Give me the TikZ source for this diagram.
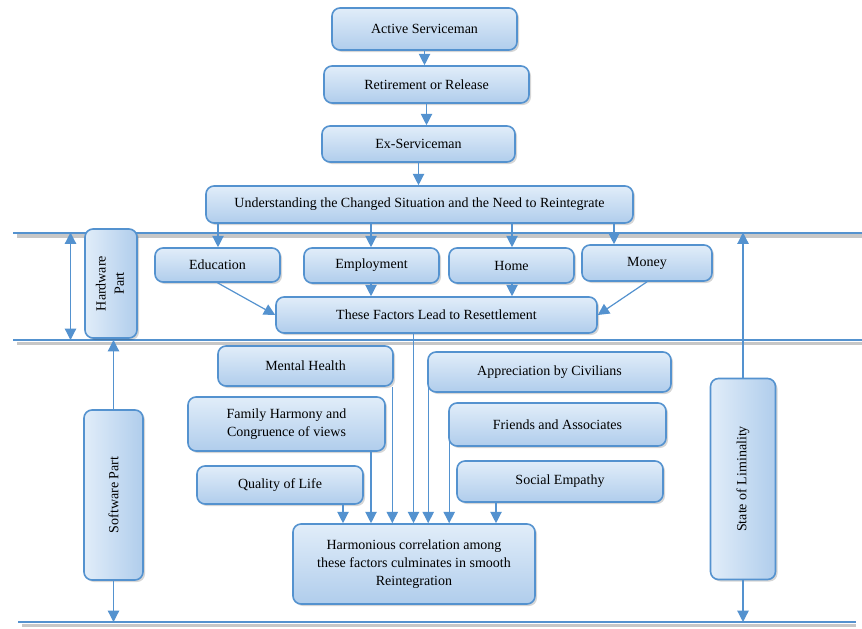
\documentclass[tikz,border=0pt]{standalone}
\usepackage{fontspec}
\usepackage{graphicx}
\setmainfont{Liberation Serif}
\usetikzlibrary{arrows.meta,shadows,calc}
\definecolor{edge}{RGB}{84,146,207}
\definecolor{boxtop}{RGB}{225,237,249}
\definecolor{boxbot}{RGB}{176,205,236}
\definecolor{rule}{RGB}{84,146,207}
\begin{document}
\begin{tikzpicture}[x=0.75pt,y=-0.75pt,
  basebox/.style={draw=edge, line width=1.2pt, rounded corners=6pt, inner sep=0pt,
    align=center, font=\fontsize{10.5}{13.7}\selectfont,
    drop shadow={shadow xshift=1.5pt, shadow yshift=-1.5pt, opacity=0.16, fill=black}},
  box/.style={basebox, top color=boxtop, bottom color=boxbot},
  vbox/.style={basebox, left color=boxtop, right color=boxbot},
  arr/.style={draw=edge, line width=0.9pt, -{Triangle[length=8.5pt,width=8.5pt]}},
  darr/.style={draw=edge, line width=0.9pt, {Triangle[length=8.5pt,width=8.5pt]}-{Triangle[length=8.5pt,width=8.5pt]}},
  hrule/.style={draw=rule, line width=1.5pt},
  hshade/.style={draw=black!22, line width=2.6pt}]

\fill[white] (0,0) rectangle (862,628);
\useasboundingbox (0,0) rectangle (862,628);

% three horizontal boundaries, each with a soft grey shade underneath
\coordinate (L1w) at (13,232.5);  \coordinate (L1e) at (862,232.5);
\coordinate (L2w) at (13,340);    \coordinate (L2e) at (862,340);
\coordinate (L3w) at (18,622);    \coordinate (L3e) at (856,622);
\foreach \a/\b in {L1w/L1e, L2w/L2e, L3w/L3e}{
  \draw[hshade] ($(\a)+(4,3.5)$) -- ($(\b)+(0,3.5)$);
  \draw[hrule] (\a) -- (\b);
}

% main chain
\node[box, minimum width=138.75pt, minimum height=31.5pt] (act) at (424.5,29) {Active Serviceman};
\node[box, minimum width=153.75pt, minimum height=27.75pt] (ret) at (426.5,84.5) {Retirement or Release};
\node[box, minimum width=144.75pt, minimum height=27pt] (ex) at (418.5,144) {Ex-Serviceman};
\node[box, minimum width=320.25pt, minimum height=27.75pt] (und) at (419.5,204.5) {Understanding the Changed Situation and the Need to Reintegrate};

% hardware factors
\node[box, minimum width=93.75pt, minimum height=25.5pt] (edu) at (217.5,265) {Education};
\node[box, minimum width=101.25pt, minimum height=26.25pt] (emp) at (371.5,265.5) {Employment};
\node[box, minimum width=93.75pt, minimum height=26.25pt] (home) at (511.5,265.5) {Home};
\node[box, minimum width=97.5pt, minimum height=27pt] (money) at (647,263) {Money};
\node[box, minimum width=240.75pt, minimum height=27pt] (res) at (436.5,315) {These Factors Lead to Resettlement};

% software factors
\node[box, minimum width=131.25pt, minimum height=30pt] (mh) at (305.5,366) {Mental Health};
\node[box, minimum width=147.75pt, minimum height=40.5pt] (fam) at (286.5,424) {Family Harmony and\\Congruence of views};
\node[box, minimum width=124.5pt, minimum height=28.5pt] (qol) at (280,485) {Quality of Life};
\node[box, minimum width=182.25pt, minimum height=30pt] (app) at (549.5,372) {Appreciation by Civilians};
\node[box, minimum width=162.75pt, minimum height=32.25pt] (fri) at (557.5,424.5) {Friends and Associates};
\node[box, minimum width=154.5pt, minimum height=30.75pt] (soc) at (560,481.5) {Social Empathy};
\node[box, minimum width=181.5pt, minimum height=60pt] (har) at (414,564) {Harmonious correlation among\\these factors culminates in smooth\\Reintegration};

% side labels
\node[vbox, minimum width=39pt, minimum height=81.75pt] (hw) at (111,283.5)
  {\rotatebox{90}{\begin{tabular}{@{}c@{}}Hardware\\Part\end{tabular}}};
\node[vbox, minimum width=44.25pt, minimum height=127.5pt] (sw) at (113.5,495) {\rotatebox{90}{Software Part}};
\node[vbox, minimum width=48.75pt, minimum height=150.75pt] (lim) at (743,479) {\rotatebox{90}{State of Liminality}};

% chain connectors
\draw[arr] (act) -- (act |- ret.north);
\draw[arr] (ret) -- (ret |- ex.north);
\draw[arr] (ex) -- (ex |- und.north);

% understanding to the four hardware factors
\coordinate (u1) at (218,0); \coordinate (u2) at (371,0);
\coordinate (u3) at (512,0); \coordinate (u4) at (614,0);
\draw[arr] (und.south -| u1) -- (edu.north -| u1);
\draw[arr] (und.south -| u2) -- (emp.north -| u2);
\draw[arr] (und.south -| u3) -- (home.north -| u3);
\draw[arr] (und.south -| u4) -- (money.north -| u4);

% hardware factors to resettlement
\draw[arr] (edu.south) -- (res.west);
\draw[arr] (emp.south -| u2) -- (res.north -| u2);
\draw[arr] (home.south -| u3) -- (res.north -| u3);
\draw[arr] (money.south) -- (res.east);

% everything converging on reintegration
\coordinate (k1) at ($(qol.south)+(63,0)$);
\coordinate (k2) at ($(fam.south)+(84.5,0)$);
\coordinate (k3) at ($(mh.south east)+(-1.5,0)$);
\coordinate (k4) at ($(res.south)+(-23,0)$);
\coordinate (k5) at ($(app.south west)+(1,-6)$);
\coordinate (k6) at ($(fri.south west)+(1,-6)$);
\coordinate (k7) at ($(soc.south)+(-64,0)$);
\foreach \k in {k1,k2,k3,k4,k5,k6,k7}
  \draw[arr] (\k) -- (\k |- har.north);

% side arrows
\coordinate (d1) at (70.5,232.5);
\coordinate (d2) at (70.5,340);
\draw[darr] (d1) -- (d2);
\draw[arr] (sw.north) -- (sw.north |- L2w);
\draw[arr] (sw.south) -- (sw.south |- L3w);
\draw[arr] (lim.north) -- (lim.north |- L1w);
\draw[arr] (lim.south) -- (lim.south |- L3w);

\end{tikzpicture}
\end{document}
